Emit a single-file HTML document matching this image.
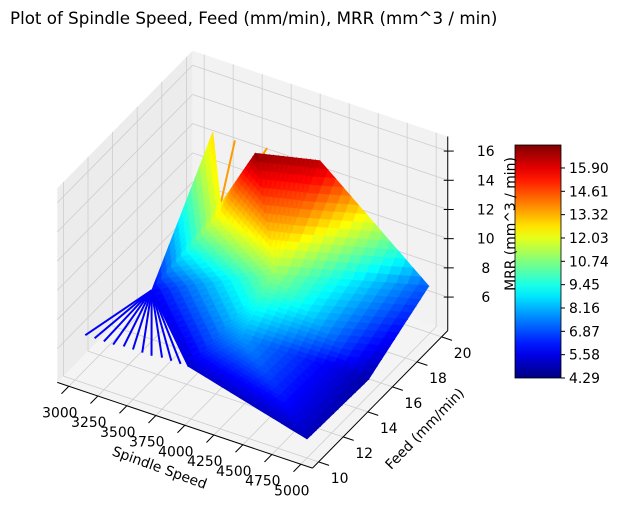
<!DOCTYPE html>
<html><head><meta charset="utf-8"><style>
body{margin:0;background:#fff;}
svg text{font-family:"DejaVu Sans","Liberation Sans",sans-serif;}
</style></head><body>
<svg id="c" width="620" height="506" xmlns="http://www.w3.org/2000/svg">
<text x="10" y="24" font-size="16.7">Plot of Spindle Speed, Feed (mm/min), MRR (mm^3 / min)</text>
<g id="panes"></g><g id="surf"></g><g id="axes"></g><g id="cbar"></g>
</svg>
<script>
// surface vertices (speed, feed, MRR)
const ptS=[5000,3800,3120,3160,3620,3960,4380,5000,4300,5000,3700,4200];
const ptF=[10,11.7,15.1,19.7,16,15.6,16.9,19.9,14,15,15.3,12.3];
const ptZ=[5,5.3,5.8,12.8,12.3,17,16.5,7,11,4.8,12.6,7.8];
const tris=[[1,2,8],[2,3,4],[2,4,10],[2,10,8],[10,4,5],[10,5,8],[5,6,8],[6,7,8],[7,9,8],[9,11,8],[9,0,11],[0,1,11],[1,8,11]];
const spokeS=[2930,3010,3090,3170,3250,3330,3410,3490,3570,3650,3730,3800];
const spokeF=[11.5,11.5,11.5,11.5,11.6,11.6,11.6,11.6,11.7,11.7,11.7,11.7];
const spikeS0=[3620,3718],spikeF0=[16,16.8],spikeZ0=[12.3,13];
const spikeS1=[3700,3956],spikeF1=[16.4,16.6],spikeZ1=[16.5,16.5];
const speedTicks=[3000,3250,3500,3750,4000,4250,4500,4750,5000];
const feedTicks=[10,12,14,16,18,20];
const zTicks=[6,8,10,12,14,16];
const cbTicks=["4.29","5.58","6.87","8.16","9.45","10.74","12.03","13.32","14.61","15.90"];
const vmin=4.29,vmax=17.17;
const S0=2900,S1=5100,F0=9.5,F1=20.5,Z0=3.7,Z1=17;
const NS="http://www.w3.org/2000/svg";
function P(s,f,z){const a=(s-3000)/2000,b=(f-10)/10;return [75+a*232+b*123,380+a*78-b*125-(z-Z0)*14.6];}
function jet(v){let t=Math.max(0,Math.min(1,(v-vmin)/(vmax-vmin)));
 const c=x=>Math.round(255*Math.max(0,Math.min(1,x)));
 return `rgb(${c(1.5-Math.abs(4*t-3))},${c(1.5-Math.abs(4*t-2))},${c(1.5-Math.abs(4*t-1))})`;}
function el(tag,attrs,parent){const e=document.createElementNS(NS,tag);for(const k in attrs)e.setAttribute(k,attrs[k]);parent.appendChild(e);return e;}
function pts(a){return a.map(p=>p[0].toFixed(1)+","+p[1].toFixed(1)).join(" ");}
const panes=document.getElementById('panes');
let e;
e=el('polygon',{points:pts([P(S0,F0,Z0),P(S0,F1,Z0),P(S0,F1,Z1),P(S0,F0,Z1)]),fill:'#ececec'},panes);

e=el('polygon',{points:pts([P(S0,F1,Z0),P(S1,F1,Z0),P(S1,F1,Z1),P(S0,F1,Z1)]),fill:'#f2f2f2'},panes);

e=el('polygon',{points:pts([P(S0,F0,Z0),P(S1,F0,Z0),P(S1,F1,Z0),P(S0,F1,Z0)]),fill:'#f4f4f4'},panes);

function gl(a,b,n){const l=el('line',{x1:a[0],y1:a[1],x2:b[0],y2:b[1],stroke:'#cdcdcd','stroke-width':0.8},panes);}
speedTicks.forEach(s=>{gl(P(s,F0,Z0),P(s,F1,Z0),'grid-speed');gl(P(s,F1,Z0),P(s,F1,Z1),'grid-speed');});
feedTicks.forEach(f=>{gl(P(S0,f,Z0),P(S1,f,Z0),'grid-feed');gl(P(S0,f,Z0),P(S0,f,Z1),'grid-feed');});
zTicks.forEach(z=>{gl(P(S0,F0,z),P(S0,F1,z),'grid-z');gl(P(S0,F1,z),P(S1,F1,z),'grid-z');});
const surf=document.getElementById('surf');
spokeS.forEach((s,i)=>{const a=P(ptS[2],ptF[2],ptZ[2]),b=P(s,spokeF[i],5.3);
 const l=el('line',{x1:a[0],y1:a[1],x2:b[0],y2:b[1],stroke:jet(5.8),'stroke-width':2},surf);
 });
spikeS0.forEach((s,i)=>{const a=P(s,spikeF0[i],spikeZ0[i]),b=P(spikeS1[i],spikeF1[i],spikeZ1[i]);
 const l=el('line',{x1:a[0],y1:a[1],x2:b[0],y2:b[1],stroke:jet(13.6),'stroke-width':2},surf);
 });
const small=[];const N=14;
tris.forEach(t=>{const V=t.map(k=>[ptS[k],ptF[k],ptZ[k]]);
 const bar=(i,j)=>{const u=i/N,v=j/N,w=1-u-v;return [0,1,2].map(d=>V[0][d]*w+V[1][d]*u+V[2][d]*v);};
 for(let i=0;i<N;i++)for(let j=0;j<N-i;j++){
  small.push([bar(i,j),bar(i+1,j),bar(i,j+1)]);
  if(i+j<N-1)small.push([bar(i+1,j),bar(i+1,j+1),bar(i,j+1)]);}});
small.forEach(q=>{q.z=(q[0][2]+q[1][2]+q[2][2])/3;const s=(q[0][0]+q[1][0]+q[2][0])/3,f=(q[0][1]+q[1][1]+q[2][1])/3;q.d=(f-10)/10-(s-3000)/2000;});
small.sort((p,q)=>q.d-p.d);
small.forEach(q=>{const col=jet(q.z);
 const p=el('polygon',{points:pts(q.map(c=>P(c[0],c[1],c[2]))),fill:col,stroke:col,'stroke-width':0.7},surf);
 });
const ax=document.getElementById('axes');
function line(a,b,n){const l=el('line',{x1:a[0],y1:a[1],x2:b[0],y2:b[1],stroke:'#000','stroke-width':1},ax);}
function txt(x,y,t,n,extra){const e=el('text',Object.assign({x:x,y:y,'font-size':13.9,'text-anchor':'middle'},extra||{}),ax);e.textContent=t;return e;}
line(P(S0,F0,Z0),P(S1,F0,Z0),'x-axis-line');
speedTicks.forEach(s=>{const a=P(s,F0,Z0),b=P(s,F0-0.6,Z0);line(a,b,'x-tick');txt(a[0]-9,a[1]+31,String(s),'x-tick-label');});
txt(158,472,'Spindle Speed','x-axis-title',{transform:'rotate(20 158 472)'});
line(P(S1,F0,Z0),P(S1,F1,Z0),'y-axis-line');
feedTicks.forEach(f=>{const a=P(S1,f,Z0),b=P(S1+90,f,Z0);line(a,b,'y-tick');txt(a[0]+21,a[1]+21,String(f),'y-tick-label');});
txt(428,432,'Feed (mm/min)','y-axis-title',{transform:'rotate(-46 428 432)'});
line(P(S1,F1,Z0),P(S1,F1,Z1),'z-axis-line');
zTicks.forEach(z=>{const a=P(S1,F1,z);line([a[0]-4,a[1]],[a[0]+6,a[1]],'z-tick');txt(a[0]+38,a[1]+5,String(z),'z-tick-label');});
const cb=document.getElementById('cbar');
const cx=515,cw=46,cy0=145,cy1=378;
const defs=el('defs',{},cb);
const lg=el('linearGradient',{id:'jg',x1:0,y1:1,x2:0,y2:0},defs);
for(let k=0;k<=20;k++){el('stop',{offset:k/20,'stop-color':jet(vmin+(vmax-vmin)*k/20)},lg);}
e=el('rect',{x:cx,y:cy0,width:cw,height:cy1-cy0,fill:'url(#jg)',stroke:'#000','stroke-width':0.8},cb);

cbTicks.forEach(t=>{const y=cy1-(parseFloat(t)-vmin)/(vmax-vmin)*(cy1-cy0);
 const l=el('line',{x1:cx+cw,y1:y,x2:cx+cw+4,y2:y,stroke:'#000'},cb);
 const tx=el('text',{x:cx+cw+8,y:y+5,'font-size':13.9},cb);tx.textContent=t;});
e=el('text',{x:515,y:224,'font-size':13.9,'text-anchor':'middle',transform:'rotate(-90 515 224)'},cb);
e.textContent='MRR (mm^3 / min)';
</script>
</body></html>
